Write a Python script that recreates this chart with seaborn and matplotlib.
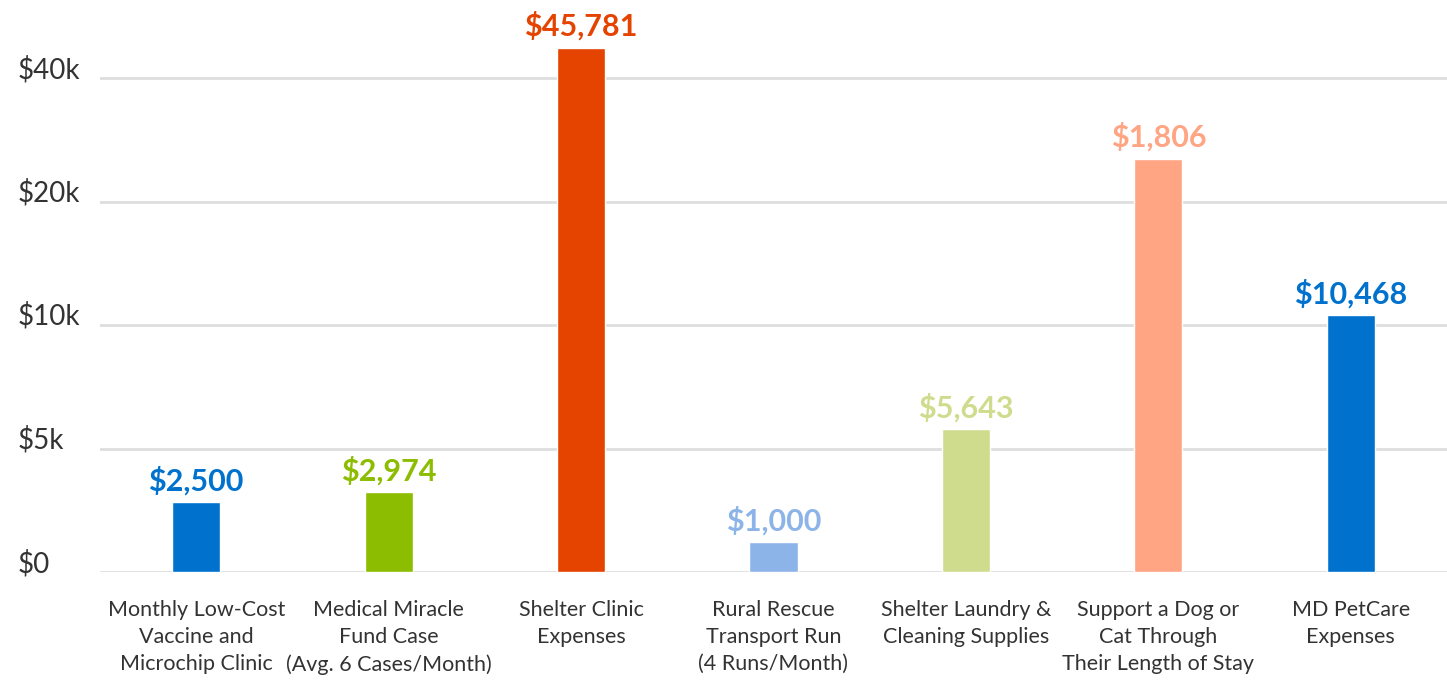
import numpy as np
import pandas as pd
import matplotlib
matplotlib.use("Agg")
import matplotlib.pyplot as plt
import seaborn as sns

categories = [
    "Monthly Low-Cost\nVaccine and\nMicrochip Clinic",
    "Medical Miracle\nFund Case\n(Avg. 6 Cases/Month)",
    "Shelter Clinic\nExpenses",
    "Rural Rescue\nTransport Run\n(4 Runs/Month)",
    "Shelter Laundry &\nCleaning Supplies",
    "Support a Dog or\nCat Through\nTheir Length of Stay",
    "MD PetCare\nExpenses",
]
values = [2820, 3230, 44900, 1210, 5770, 26900, 10800]
value_labels = ["$2,500", "$2,974", "$45,781", "$1,000", "$5,643", "$1,806", "$10,468"]
colors = ["#0072CE", "#8CBD00", "#E54300", "#8DB4E8", "#CFDC8E", "#FFA584", "#0072CE"]
tick_values = [0, 5000, 10000, 20000, 40000]
tick_labels = ["$0", "$5k", "$10k", "$20k", "$40k"]

tv = np.array(tick_values, float)
tp = np.arange(len(tv), dtype=float)


def fwd(v):
    v = np.asarray(v, float)
    out = np.interp(v, tv, tp)
    out = np.where(v > tv[-1], tp[-1] + (v - tv[-1]) / (tv[-1] - tv[-2]), out)
    out = np.where(v < 0, v / tv[1], out)
    return out


def inv(p):
    p = np.asarray(p, float)
    out = np.interp(p, tp, tv)
    out = np.where(p > tp[-1], tv[-1] + (p - tp[-1]) * (tv[-1] - tv[-2]), out)
    out = np.where(p < 0, p * tv[1], out)
    return out


sns.set_theme(style="white")
plt.rcParams["font.family"] = ["Lato", "DejaVu Sans"]

df = pd.DataFrame({"cat": categories, "val": values})

fig = plt.figure(figsize=(14.47, 6.83), dpi=100)
ax = fig.add_axes([100 / 1447, (683 - 572) / 683, 1347 / 1447, 572 / 683])

sns.barplot(data=df, x="cat", y="val", hue="cat", palette=colors,
            width=0.25, legend=False, ax=ax, saturation=1, zorder=3)

ax.set_yscale("function", functions=(fwd, inv))
ax.set_ylim(0, inv(572 / 123.5))
ax.set_xlim(-0.5, len(categories) - 0.5)

ax.set_yticks(tick_values)
ax.set_yticklabels(tick_labels)
ax.yaxis.grid(True, color="#dedede", lw=2, zorder=0)
ax.xaxis.grid(False)
for s in ax.spines.values():
    s.set_visible(False)

ax.tick_params(axis="y", length=0, pad=59, labelsize=20, labelcolor="#333333")
for lbl in ax.get_yticklabels():
    lbl.set_ha("left")
    lbl.set_va("baseline")
ax.tick_params(axis="x", length=0, pad=20, labelsize=15.5, labelcolor="#333333")
ax.set_xticks(range(len(categories)))
ax.set_xticklabels(categories, linespacing=1.45, multialignment="center",
                   fontsize=15.5, color="#333333")
ax.set_xlabel("")
ax.set_ylabel("")

for cont, lab, col in zip(ax.containers, value_labels, colors):
    ax.bar_label(cont, labels=[lab], padding=5, color=col,
                 fontsize=22, fontweight="bold")

fig.savefig("out.png", dpi=100)
